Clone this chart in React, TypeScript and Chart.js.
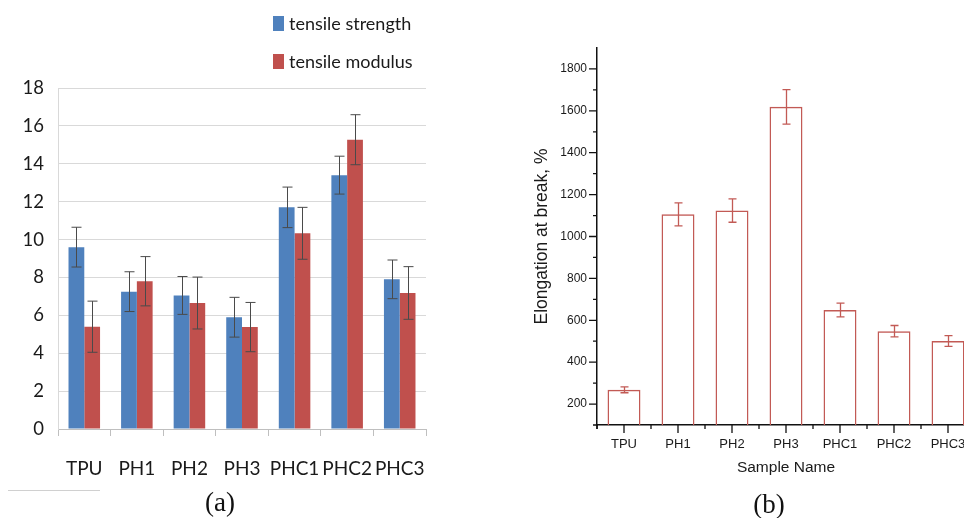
import React, { useEffect, useRef } from 'react';
import { Chart, registerables } from 'chart.js';
Chart.register(...registerables);

const categories = ['TPU', 'PH1', 'PH2', 'PH3', 'PHC1', 'PHC2', 'PHC3'];
const strength = [9.6, 7.25, 7.05, 5.9, 11.7, 13.4, 7.9];
const strengthErr = [1.05, 1.05, 1.0, 1.05, 1.07, 1.0, 1.02];
const modulus = [5.4, 7.8, 6.65, 5.38, 10.33, 15.27, 7.18];
const modulusErr = [1.35, 1.3, 1.37, 1.3, 1.37, 1.32, 1.39];
const elongation = [268, 1106, 1124, 1619, 649, 548, 501];
const elongationErr = [14, 55, 56, 82, 33, 27, 26];
const legendLabels = ['tensile strength', 'tensile modulus'];

const BLUE = '#4f81bd';
const RED = '#c0504d';
const BRED = '#c25a55';

const errorBarPlugin = {
  id: 'errorBars',
  afterDatasetsDraw(chart: any, _args: any, opts: any) {
    if (!opts || !opts.errors) return;
    const { ctx } = chart;
    const yScale = chart.scales.y;
    chart.data.datasets.forEach((ds: any, di: number) => {
      const errs = opts.errors[di];
      if (!errs) return;
      const meta = chart.getDatasetMeta(di);
      ctx.save();
      ctx.strokeStyle = opts.color;
      ctx.lineWidth = opts.width;
      meta.data.forEach((el: any, i: number) => {
        const v = ds.data[i];
        const e = errs[i];
        const x = Math.round(el.x) + 0.5;
        const yt = yScale.getPixelForValue(v + e);
        const yb = yScale.getPixelForValue(v - e);
        const h = opts.cap / 2;
        ctx.beginPath();
        ctx.moveTo(x, yt);
        ctx.lineTo(x, yb);
        ctx.moveTo(x - h, yt);
        ctx.lineTo(x + h, yt);
        ctx.moveTo(x - h, yb);
        ctx.lineTo(x + h, yb);
        ctx.stroke();
      });
      ctx.restore();
    });
  },
};

const axisTicksPlugin = {
  id: 'axisTicksB',
  afterDraw(chart: any) {
    const { ctx } = chart;
    const y = chart.scales.y;
    const x = chart.scales.x;
    const { left, bottom } = chart.chartArea;
    ctx.save();
    ctx.strokeStyle = '#111';
    ctx.lineWidth = 1.3;
    ctx.beginPath();
    for (let v = 200; v <= 1800; v += 100) {
      const py = y.getPixelForValue(v);
      const len = v % 200 === 0 ? 8 : 4;
      ctx.moveTo(left - len, py);
      ctx.lineTo(left, py);
    }
    const n = categories.length;
    for (let i = 0; i < n; i++) {
      const cx = x.getPixelForValue(i);
      const half = (x.getPixelForValue(1) - x.getPixelForValue(0)) / 2;
      ctx.moveTo(cx, bottom);
      ctx.lineTo(cx, bottom + 8);
      ctx.moveTo(cx - half, bottom);
      ctx.lineTo(cx - half, bottom + 4);
      ctx.moveTo(cx + half, bottom);
      ctx.lineTo(cx + half, bottom + 4);
    }
    ctx.stroke();
    ctx.lineWidth = 1.5;
    ctx.beginPath();
    ctx.moveTo(left, bottom);
    ctx.lineTo(left, bottom + 4);
    ctx.moveTo(left - 4, bottom);
    ctx.lineTo(left, bottom);
    ctx.stroke();
    ctx.restore();
  },
};

function ChartA() {
  const ref = useRef<HTMLCanvasElement>(null);
  useEffect(() => {
    const chart = new Chart(ref.current as HTMLCanvasElement, {
      type: 'bar',
      data: {
        labels: categories,
        datasets: [
          { label: legendLabels[0], data: strength, backgroundColor: BLUE, borderWidth: 0 },
          { label: legendLabels[1], data: modulus, backgroundColor: RED, borderWidth: 0 },
        ],
      },
      plugins: [errorBarPlugin],
      options: {
        animation: false,
        responsive: false,
        maintainAspectRatio: false,
        datasets: { bar: { categoryPercentage: 0.6, barPercentage: 1.0 } },
        layout: { padding: { left: 0, top: 88, right: 14, bottom: 0 } },
        plugins: {
          legend: { display: false },
          tooltip: { enabled: false },
          errorBars: { errors: [strengthErr, modulusErr], color: '#4a4a4a', width: 1, cap: 10 },
        } as any,
        scales: {
          x: {
            grid: { offset: true, drawOnChartArea: false, drawTicks: true, tickLength: 7, color: '#bfbfbf' },
            border: { color: '#bfbfbf' },
            ticks: { font: { family: 'Lato', size: 19 }, color: '#1a1a1a', padding: 21, maxRotation: 0, autoSkip: false },
            afterFit: (s: any) => { s.height = 61; s.paddingLeft = 0; s.paddingRight = 0; },
          },
          y: {
            min: 0,
            max: 18,
            ticks: { stepSize: 2, font: { family: 'Lato', size: 18.5 }, color: '#1a1a1a', padding: 14 },
            grid: { color: '#d9d9d9', drawTicks: false },
            border: { color: '#d9d9d9' },
            afterFit: (s: any) => { s.width = 58; s.paddingTop = 0; s.paddingBottom = 0; },
          },
        },
      },
    });
    return () => chart.destroy();
  }, []);
  return <canvas ref={ref} width={440} height={490} style={{ position: 'absolute', left: 0, top: 0 }} />;
}

function ChartB() {
  const ref = useRef<HTMLCanvasElement>(null);
  useEffect(() => {
    const chart = new Chart(ref.current as HTMLCanvasElement, {
      type: 'bar',
      data: {
        labels: categories,
        datasets: [
          {
            label: 'Elongation at break',
            data: elongation,
            backgroundColor: 'rgba(255,255,255,0)',
            borderColor: BRED,
            borderWidth: 1.5,
            borderSkipped: 'bottom',
          },
        ],
      },
      plugins: [errorBarPlugin, axisTicksPlugin],
      options: {
        animation: false,
        responsive: false,
        maintainAspectRatio: false,
        datasets: { bar: { categoryPercentage: 1.0, barPercentage: 0.61 } },
        layout: { padding: { left: 0, top: 48, right: 5, bottom: 0 } },
        plugins: {
          legend: { display: false },
          tooltip: { enabled: false },
          errorBars: { errors: [elongationErr], color: BRED, width: 1.3, cap: 8 },
        } as any,
        scales: {
          x: {
            grid: { display: false, drawTicks: false },
            border: { color: '#111', width: 1.5 },
            ticks: { font: { family: 'Liberation Sans', size: 13 }, color: '#1a1a1a', padding: 12, maxRotation: 0, autoSkip: false },
            title: { display: true, text: 'Sample Name', font: { family: 'Liberation Sans', size: 15.5 }, color: '#1a1a1a', padding: { top: 0, bottom: 13 } },
            afterFit: (s: any) => { s.height = 65; s.paddingLeft = 0; s.paddingRight = 0; },
          },
          y: {
            min: 100,
            max: 1900,
            ticks: {
              stepSize: 100,
              font: { family: 'Liberation Sans', size: 12 },
              color: '#1a1a1a',
              padding: 10,
              callback: (v: any) => (v % 200 === 0 && v >= 200 && v <= 1800 ? String(v) : ''),
            },
            grid: { display: false, drawTicks: false },
            border: { color: '#111', width: 1.5 },
            title: { display: true, text: 'Elongation at break, %', font: { family: 'Liberation Sans', size: 17.5 }, color: '#1a1a1a', padding: { top: 32, bottom: 0 } },
            afterFit: (s: any) => { s.width = 97; s.paddingTop = 0; s.paddingBottom = 0; },
          },
        },
      },
    });
    return () => chart.destroy();
  }, []);
  return <canvas ref={ref} width={480} height={490} style={{ position: 'absolute', left: 500, top: 0 }} />;
}

export default function App() {
  const legendItem = (color: string, text: string, top: number) => (
    <div style={{ position: 'absolute', left: 273, top, height: 16, display: 'flex', alignItems: 'center' }}>
      <div style={{ width: 11, height: 15, background: color }} />
      <span style={{ marginLeft: 5, fontFamily: 'Lato', fontSize: 18, color: '#1a1a1a', lineHeight: '16px', whiteSpace: 'nowrap' }}>{text}</span>
    </div>
  );
  return (
    <div style={{ position: 'fixed', left: 0, top: 0, width: 964, height: 518, overflow: 'hidden', background: '#fff' }}>
      <ChartA />
      <ChartB />
      {legendItem(BLUE, legendLabels[0], 15)}
      {legendItem(RED, legendLabels[1], 53)}
      <div style={{ position: 'absolute', left: 8, top: 490, width: 92, height: 1, background: '#d0d0d0' }} />
      <div style={{ position: 'absolute', left: 120, top: 489, width: 200, textAlign: 'center', fontFamily: 'Liberation Serif', fontSize: 27, lineHeight: '27px', color: '#111' }}>(a)</div>
      <div style={{ position: 'absolute', left: 669, top: 491, width: 200, textAlign: 'center', fontFamily: 'Liberation Serif', fontSize: 27, lineHeight: '27px', color: '#111' }}>(b)</div>
    </div>
  );
}
